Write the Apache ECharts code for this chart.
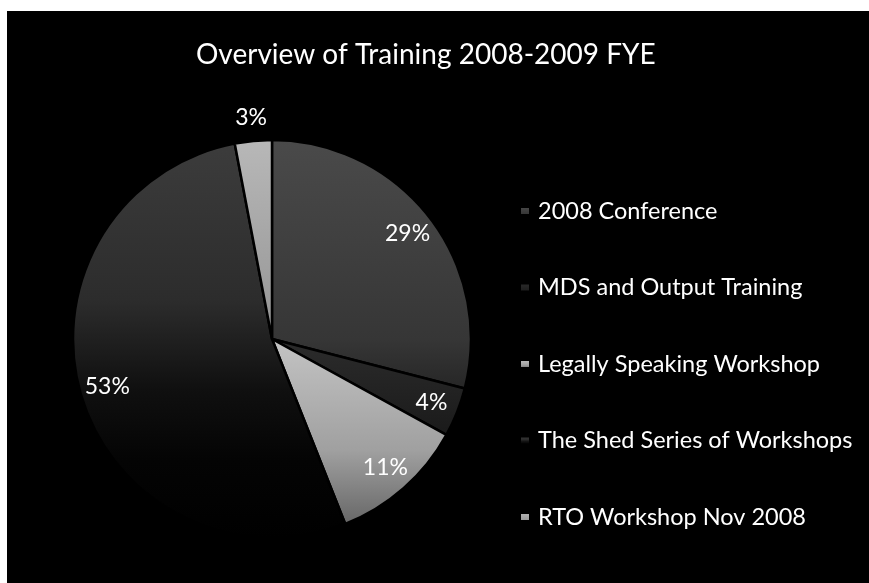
<!DOCTYPE html>
<html>
<head>
<meta charset="utf-8">
<script src="https://cdn.jsdelivr.net/npm/echarts@6/dist/echarts.min.js"></script>
<style>
  html, body { margin: 0; padding: 0; background: #ffffff; width: 869px; height: 583px; overflow: hidden; }
  #chart { position: absolute; left: 7px; top: 11px; width: 862px; height: 572px; background: #000; }
</style>
</head>
<body>
<div id="chart"></div>
<script>
const titleText = 'Overview of Training 2008-2009 FYE';
const categories = [
  '2008 Conference',
  'MDS and Output Training',
  'Legally Speaking Workshop',
  'The Shed Series of Workshops',
  'RTO Workshop Nov 2008'
];
const values = [29, 4, 11, 53, 3];
const sliceColorStops = [
  [[0, '#4a4a4a'], [0.8, '#363636'], [1, '#262626']],
  [[0, '#2c2c2c'], [1, '#1a1a1a']],
  [[0, '#c4c4c4'], [0.6, '#a0a0a0'], [1, '#666666']],
  [[0, '#3c3c3c'], [0.4, '#2c2c2c'], [0.62, '#101010'], [0.8, '#040404'], [1, '#000000']],
  [[0, '#b8b8b8'], [1, '#949494']]
];

function grad(stops) {
  return new echarts.graphic.LinearGradient(0, 0, 0, 1,
    stops.map(s => ({ offset: s[0], color: s[1] })));
}

const chart = echarts.init(document.getElementById('chart'), null, { renderer: 'canvas' });
const font = 'Lato, "Open Sans", sans-serif';

const mainData = categories.map((name, i) => ({
  name: name,
  value: values[i],
  itemStyle: { color: grad(sliceColorStops[i]) }
}));

const labelData = categories.map((name, i) => {
  const item = { name: name, value: values[i] };
  if (i === 4) {
    item.label = { position: 'outside', distanceToLabelLine: 0 };
    item.labelLine = { show: false, length: 19, length2: 0 };
  }
  return item;
});

chart.setOption({
  backgroundColor: '#000000',
  animation: false,
  title: {
    text: titleText,
    left: 189,
    top: 30,
    padding: 0,
    textStyle: { color: '#ffffff', fontFamily: font, fontSize: 28, fontWeight: 'normal' }
  },
  legend: {
    orient: 'vertical',
    left: 512,
    top: 188,
    padding: 0,
    itemGap: 52.5,
    itemWidth: 10,
    itemHeight: 8,
    icon: 'rect',
    data: categories,
    selectedMode: false,
    textStyle: { color: '#ffffff', fontFamily: font, fontSize: 23.5, lineHeight: 22, padding: [0, 0, 0, 3] }
  },
  series: [
    {
      type: 'pie',
      center: [265, 328],
      radius: [0, 199],
      startAngle: 90,
      clockwise: true,
      silent: true,
      label: { show: false },
      labelLine: { show: false },
      emphasis: { disabled: true },
      itemStyle: { borderColor: '#000000', borderWidth: 2.5 },
      data: mainData
    },
    {
      type: 'pie',
      center: [265, 328],
      radius: [134, 203],
      startAngle: 90,
      clockwise: true,
      silent: true,
      percentPrecision: 0,
      itemStyle: { color: 'rgba(0,0,0,0)' },
      emphasis: { disabled: true },
      label: {
        show: true,
        position: 'inside',
        formatter: '{d}%',
        color: '#ffffff',
        fontFamily: font,
        fontSize: 23,
        textBorderWidth: 0
      },
      labelLine: { show: false },
      labelLayout: function (params) {
        if (params.dataIndex === 4) { return { align: 'center' }; }
        return {};
      },
      data: labelData
    }
  ]
});
</script>
</body>
</html>
